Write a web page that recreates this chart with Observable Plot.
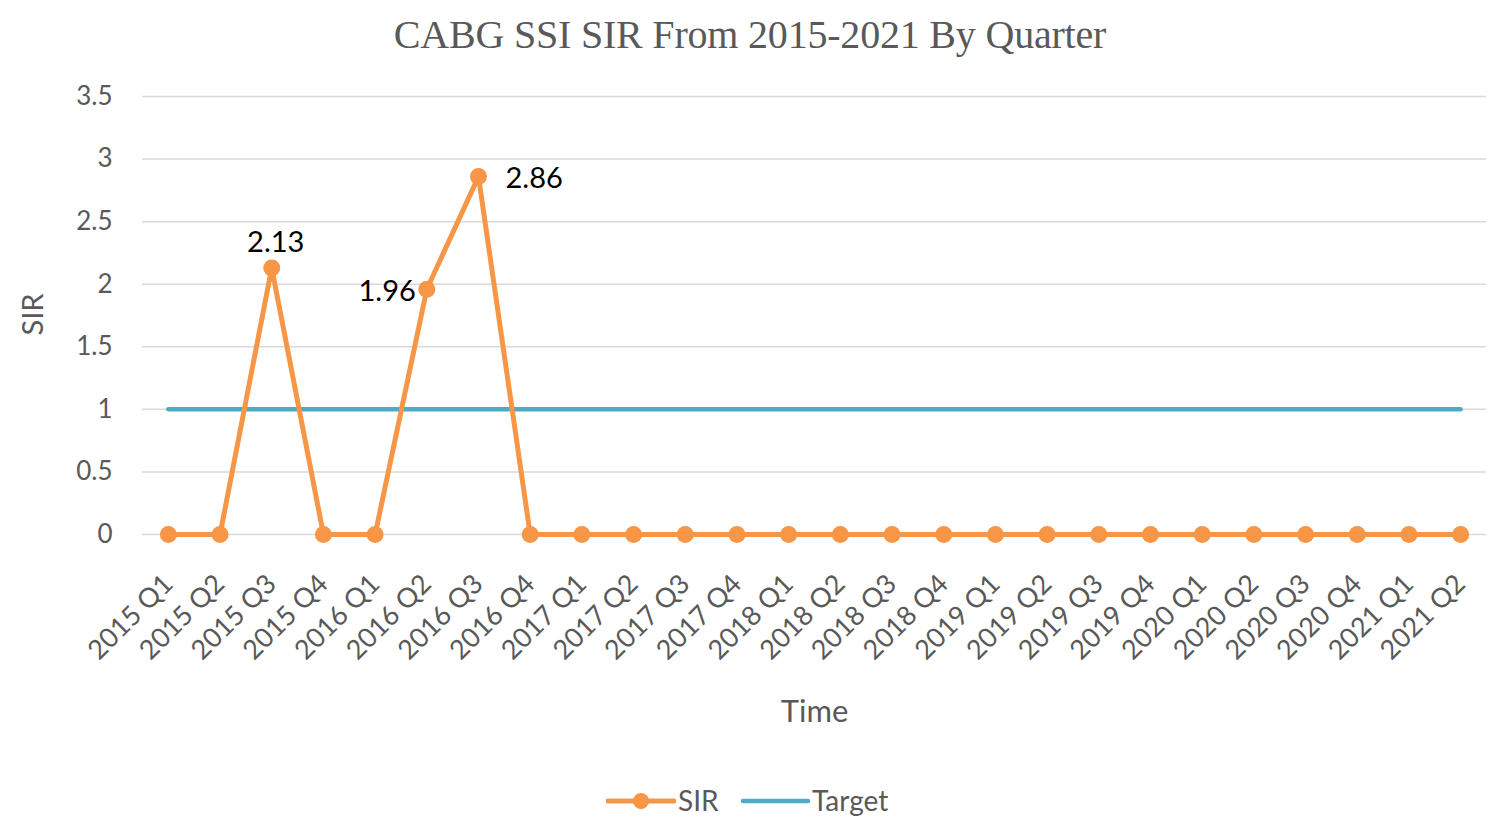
<!DOCTYPE html>
<html>
<head>
<meta charset="utf-8">
<script src="https://cdn.jsdelivr.net/npm/d3@7"></script>
<script src="https://cdn.jsdelivr.net/npm/@observablehq/plot@0.6"></script>
<style>
  body { margin: 0; background: #fff; width: 1500px; height: 826px; overflow: hidden; font-family: Lato, sans-serif; }
  #title { height: 70px; line-height: 70px; text-align: center; font-family: "Liberation Serif", serif; font-size: 40px; color: #595959; letter-spacing: -0.2px; }
  #chart svg { display: block; }
  #legend { position: absolute; top: 782px; left: 0; width: 1500px; height: 40px; }
  .sw { position: absolute; top: 0; }
  .lt { position: absolute; top: 1px; font-size: 28px; color: #595959; font-family: Lato, sans-serif; }
</style>
</head>
<body>
<div id="title">CABG SSI SIR From 2015-2021 By Quarter</div>
<div id="chart"></div>
<div id="legend"></div>
<script>
const quarters = ["2015 Q1","2015 Q2","2015 Q3","2015 Q4","2016 Q1","2016 Q2","2016 Q3","2016 Q4",
  "2017 Q1","2017 Q2","2017 Q3","2017 Q4","2018 Q1","2018 Q2","2018 Q3","2018 Q4",
  "2019 Q1","2019 Q2","2019 Q3","2019 Q4","2020 Q1","2020 Q2","2020 Q3","2020 Q4",
  "2021 Q1","2021 Q2"];
const sirValues = [0,0,2.13,0,0,1.96,2.86,0,0,0,0,0,0,0,0,0,0,0,0,0,0,0,0,0,0,0];
const targetValue = 1;
const yTicks = [0,0.5,1,1.5,2,2.5,3,3.5];
const labeledQuarters = {"2015 Q3": "above", "2016 Q2": "left", "2016 Q3": "right"};

const orange = "#F79646";
const blue = "#4BACC6";

const sir = quarters.map((q, i) => ({quarter: q, value: sirValues[i]}));
const target = quarters.map(q => ({quarter: q, value: targetValue}));
const lbl = pos => sir.filter(d => labeledQuarters[d.quarter] === pos);

const chart = Plot.plot({
  width: 1500,
  height: 690,
  marginTop: 26,
  marginBottom: 226,
  marginLeft: 142,
  marginRight: 14,
  style: {fontFamily: "Lato, sans-serif", fontSize: "26px", color: "#595959", background: "#fff"},
  x: {type: "point", domain: quarters, padding: 0.5, round: false},
  y: {domain: [0, 3.5]},
  marks: [
    Plot.gridY(yTicks, {stroke: "#d9d9d9", strokeOpacity: 1, strokeWidth: 1.5}),
    Plot.axisY({ticks: yTicks, tickSize: 0, tickPadding: 30, tickFormat: d => String(d),
      fontSize: 26, label: null}),
    Plot.axisX({tickSize: 0, tickRotate: -45, tickPadding: 45, fontSize: 27, label: null}),
    Plot.text(["SIR"], {frameAnchor: "left", dx: -109, dy: 20, rotate: -90, fontSize: 29, fill: "#595959"}),
    Plot.text(["Time"], {frameAnchor: "bottom", dy: 187, fontSize: 31, fill: "#595959"}),
    Plot.line(target, {x: "quarter", y: "value", stroke: blue, strokeWidth: 4.5}),
    Plot.line(sir, {x: "quarter", y: "value", stroke: orange, strokeWidth: 5, curve: "linear"}),
    Plot.dot(sir, {x: "quarter", y: "value", r: 8.5, fill: orange, stroke: "none"}),
    Plot.text(lbl("above"), {x: "quarter", y: "value", text: d => d.value.toFixed(2), dx: 4, dy: -25, fill: "#000", fontSize: 29}),
    Plot.text(lbl("left"), {x: "quarter", y: "value", text: d => d.value.toFixed(2), dx: -11, dy: 2, textAnchor: "end", fill: "#000", fontSize: 29}),
    Plot.text(lbl("right"), {x: "quarter", y: "value", text: d => d.value.toFixed(2), dx: 27, dy: 2, textAnchor: "start", fill: "#000", fontSize: 29})
  ]
});
document.getElementById("chart").appendChild(chart);

// legend
const legend = document.getElementById("legend");
legend.innerHTML = `
  <svg class="sw" style="left:606px" width="70" height="40"><line x1="2" y1="19" x2="68" y2="19" stroke="${orange}" stroke-width="5" stroke-linecap="round"/><circle cx="35" cy="19" r="8" fill="${orange}"/></svg>
  <span class="lt" style="left:678px">SIR</span>
  <svg class="sw" style="left:740px" width="72" height="40"><line x1="3" y1="19" x2="68" y2="19" stroke="${blue}" stroke-width="4.5" stroke-linecap="round"/></svg>
  <span class="lt" style="left:812px">Target</span>
`;
</script>
</body>
</html>
